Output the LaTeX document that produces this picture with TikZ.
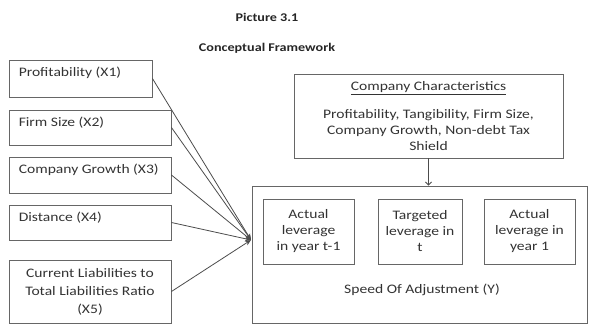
\documentclass[tikz,border=0pt]{standalone}
\usepackage{fontspec}
\setmainfont{Carlito}[FakeStretch=1.2]
\usetikzlibrary{arrows.meta}

\tikzstyle{varbox} = [draw=black!60, line width=.9pt, rectangle, inner sep=0pt,
    text=black!80, font=\fontsize{13}{18}\selectfont, align=center]
\tikzstyle{tag} = [anchor=north west, inner sep=0pt, xshift=10pt, yshift=-7pt,
    text=black!80, font=\fontsize{13}{18}\selectfont]
\tikzstyle{heading} = [inner sep=0pt, text=black!85, font=\fontsize{11.8}{13}\selectfont\bfseries]
\tikzstyle{conn} = [draw=black!70, line width=.8pt, -{Stealth[length=6pt, width=5pt]}]

\begin{document}
\begin{tikzpicture}[x=1pt, y=-1pt]
  \useasboundingbox (0,0) rectangle (589,324);
  \node (pic) [heading] at (267,17) {Picture 3.1};
  \node (title) [heading] at (267,48) {Conceptual Framework};

  % independent variables
  \node (x1) [varbox, minimum width=143pt, minimum height=37pt] at (80.5,78.5)
    [label={[tag]north west:Profitability (X1)}] {};
  \node (x2) [varbox, minimum width=162pt, minimum height=35pt] at (90,127.5)
    [label={[tag]north west:Firm Size (X2)}] {};
  \node (x3) [varbox, minimum width=162pt, minimum height=36pt] at (90,175)
    [label={[tag]north west:Company Growth (X3)}] {};
  \node (x4) [varbox, minimum width=162pt, minimum height=35pt] at (90,222.5)
    [label={[tag]north west:Distance (X4)}] {};
  \node (x5) [varbox, minimum width=162pt, minimum height=63pt] at (90,291.5)
    {Current Liabilities to\\Total Liabilities Ratio\\(X5)};

  % company characteristics
  \node (cc) [varbox, minimum width=269pt, minimum height=84pt,
    font=\fontsize{13}{16}\selectfont] at (428.5,116)
    {\underline{Company Characteristics}\\[12pt]
     Profitability, Tangibility, Firm Size,\\Company Growth, Non-debt Tax\\Shield};

  % speed of adjustment
  \node (soa) [varbox, minimum width=335pt, minimum height=137pt] at (419.5,254.5) {};
  \node (alag) [varbox, minimum width=91pt, minimum height=65pt,
    font=\fontsize{13}{16}\selectfont] at (308.5,231.5) {Actual\\leverage\\in year t-1};
  \node (tlev) [varbox, minimum width=84pt, minimum height=65pt,
    font=\fontsize{13}{16}\selectfont] at (420,231.5) {Targeted\\leverage in\\t};
  \node (alev) [varbox, minimum width=91pt, minimum height=65pt,
    font=\fontsize{13}{16}\selectfont] at (529.5,231.5) {Actual\\leverage in\\year 1};
  \node (speed) [text=black!80, font=\fontsize{13}{16}\selectfont] at (422,290)
    {Speed Of Adjustment (Y)};

  \coordinate (hub) at (251,240);
  \foreach \i in {1,...,5}
    \draw [conn] (x\i.east) -- (hub);
  \draw [draw=black!70, line width=.8pt, -{Straight Barb[length=3pt]}]
    (cc.south) -- (cc.south |- soa.north);
\end{tikzpicture}
\end{document}
